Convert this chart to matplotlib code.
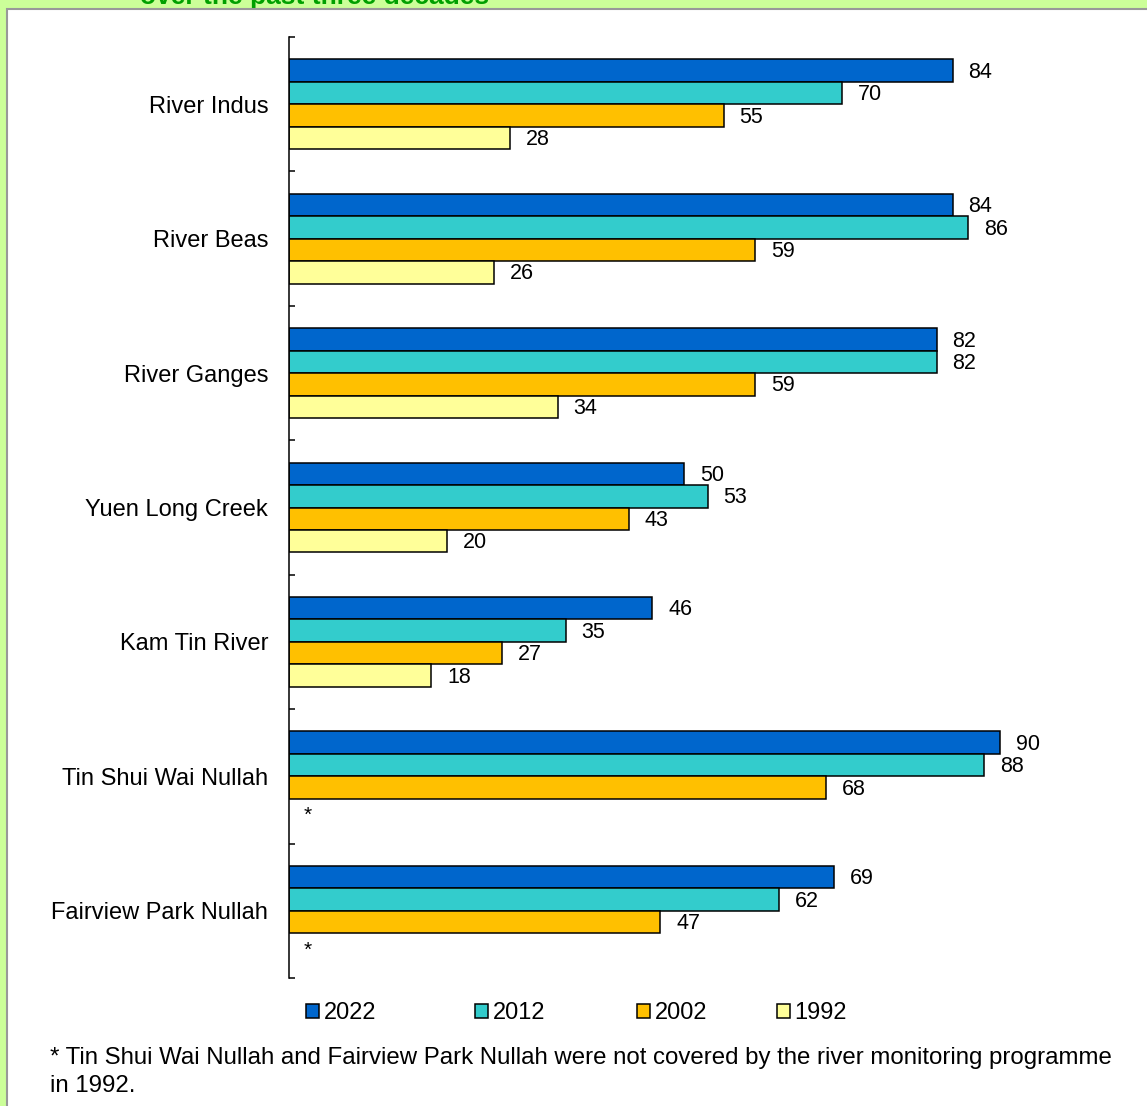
import matplotlib
matplotlib.use("Agg")
import matplotlib.pyplot as plt
from matplotlib.patches import Rectangle
import numpy as np

plt.rcParams["font.family"] = ["Liberation Sans", "DejaVu Sans"]

RIVERS = [
    "River Indus",
    "River Beas",
    "River Ganges",
    "Yuen Long Creek",
    "Kam Tin River",
    "Tin Shui Wai Nullah",
    "Fairview Park Nullah",
]
YEARS = ["2022", "2012", "2002", "1992"]
V2022 = [84, 84, 82, 50, 46, 90, 69]
V2012 = [70, 86, 82, 53, 35, 88, 62]
V2002 = [55, 59, 59, 43, 27, 68, 47]
V1992 = [28, 26, 34, 20, 18, None, None]   # not monitored in 1992

COLORS = ["#0066CC", "#33CCCC", "#FFC000", "#FFFF99"]
BG_GREEN = "#CCFF99"
TITLE_GREEN = "#00A000"

W, H = 1147, 1106
fig = plt.figure(figsize=(W / 100, H / 100), dpi=100)
fig.patch.set_facecolor(BG_GREEN)

# heading tucked behind the top of the white panel
fig.text(140 / W, 1 - 4 / H, "over the past three decades", fontsize=19,
         fontweight="bold", color=TITLE_GREEN, ha="left", va="baseline",
         zorder=-3)

# white panel with a grey edge
fig.patches.append(Rectangle((7 / W, -0.05), 1.2, 1 - 9 / H + 0.05,
                             transform=fig.transFigure, facecolor="white",
                             edgecolor="#999999", linewidth=1.5, zorder=-2))

ax = fig.add_axes([289 / W, 1 - 978 / H, 790 / W, (978 - 37) / H])
ax.set_facecolor("none")

series = [V2022, V2012, V2002, V1992]
bar_h = 0.167
offsets = [-1.5 * bar_h, -0.5 * bar_h, 0.5 * bar_h, 1.5 * bar_h]
y = np.arange(len(RIVERS))

handles = []
for vals, off, col, yr in zip(series, offsets, COLORS, YEARS):
    for i, v in enumerate(vals):
        if v is None:
            ax.text(1.8, y[i] + off + 0.04, "*", fontsize=15, ha="left",
                    va="center", color="black")
            continue
        bars = ax.barh(y[i] + off, v, height=bar_h, color=col,
                       edgecolor="black", linewidth=1.1)
        if i == 0:
            handles.append(bars)
        ax.text(v + 2.0, y[i] + off + 0.012, str(v), fontsize=15.5,
                ha="left", va="center", color="black")

ax.set_xlim(0, 100)
ax.set_ylim(len(RIVERS) - 0.5, -0.5)
ax.set_yticks(y)
ax.set_yticklabels(RIVERS, fontsize=17)
ax.tick_params(axis="y", which="major", length=0, pad=15)
ax.set_yticks(np.arange(-0.5, len(RIVERS)), minor=True)
ax.tick_params(axis="y", which="minor", direction="in", length=4.5,
               width=1.1)
ax.set_xticks([])
for s in ["top", "right", "bottom"]:
    ax.spines[s].set_visible(False)
ax.spines["left"].set_linewidth(1.1)

# one legend entry per year, spaced along the bottom
legend_x = [306, 475, 637, 777]
for h, yr, lx in zip(handles, YEARS, legend_x):
    leg = fig.legend([h], [yr], loc="center left",
                     bbox_to_anchor=(lx / W, 1 - 1013 / H), frameon=False,
                     fontsize=17, handlelength=0.55, handleheight=0.55,
                     handletextpad=0.2, borderpad=0, borderaxespad=0)

fig.text(50 / W, 1 - 1058 / H,
         "* Tin Shui Wai Nullah and Fairview Park Nullah were not covered "
         "by the river monitoring programme",
         fontsize=17.3, ha="left", va="center")
fig.text(50 / W, 1 - 1086 / H, "in 1992.", fontsize=17.3, ha="left",
         va="center")

fig.savefig("out.png", dpi=100)
